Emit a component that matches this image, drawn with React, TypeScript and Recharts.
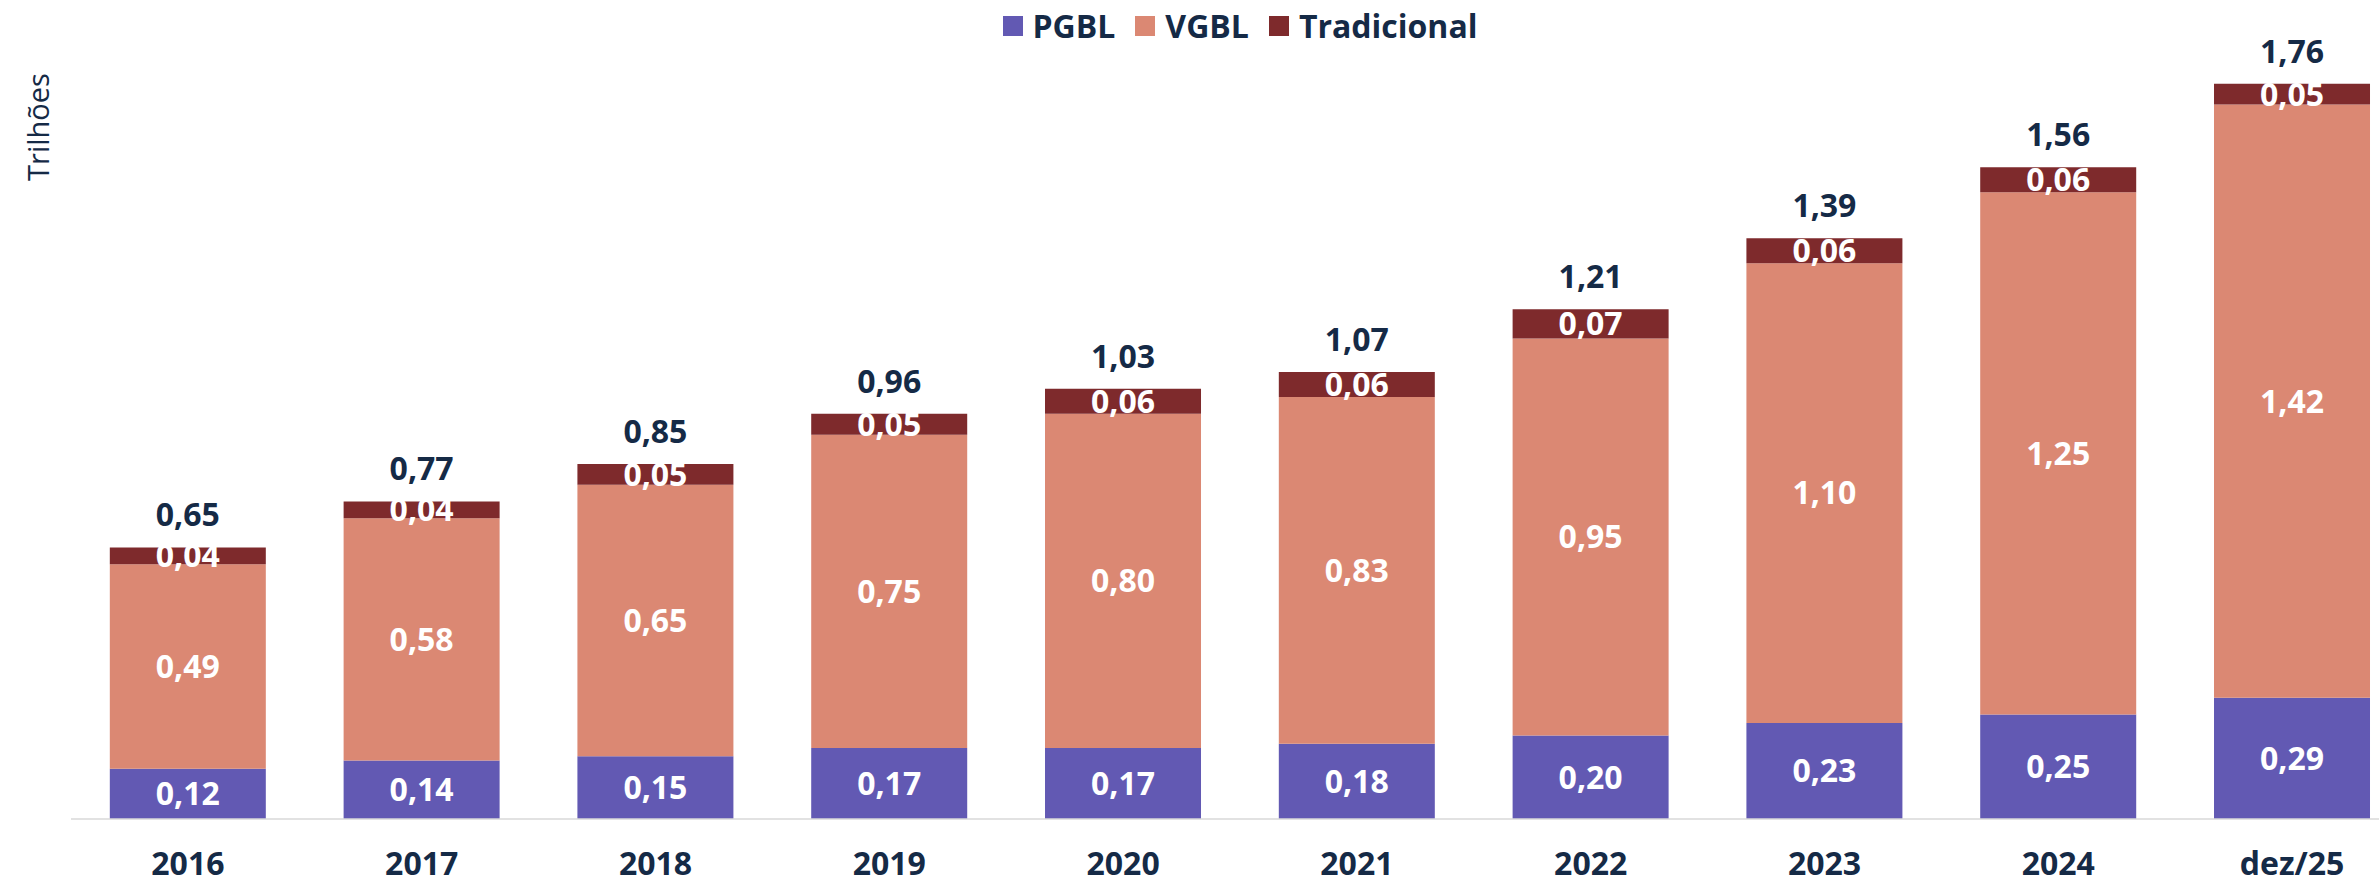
import { BarChart, Bar, XAxis, YAxis, Legend, LabelList } from "recharts";

const categories = ["2016", "2017", "2018", "2019", "2020", "2021", "2022", "2023", "2024", "dez/25"];
const pgbl = [0.12, 0.14, 0.15, 0.17, 0.17, 0.18, 0.2, 0.23, 0.25, 0.29];
const vgbl = [0.49, 0.58, 0.65, 0.75, 0.8, 0.83, 0.95, 1.1, 1.25, 1.42];
const tradicional = [0.04, 0.04, 0.05, 0.05, 0.06, 0.06, 0.07, 0.06, 0.06, 0.05];
const totals = [0.65, 0.77, 0.85, 0.96, 1.03, 1.07, 1.21, 1.39, 1.56, 1.76];

const NAVY = "#152a46";
const FONT = "'Open Sans', sans-serif";

const series = [
  { key: "pgbl", name: "PGBL", color: "#6259b3" },
  { key: "vgbl", name: "VGBL", color: "#db8873" },
  { key: "tradicional", name: "Tradicional", color: "#7e2a2c" },
];

const data = categories.map((cat, i) => ({
  cat,
  pgbl: pgbl[i],
  vgbl: vgbl[i],
  tradicional: tradicional[i],
  total: totals[i],
}));

const fmt = (v: number) => v.toFixed(2).replace(".", ",");

const XTick = ({ x, y, payload }: any) => (
  <text x={x} y={y} dy={56} textAnchor="middle" fill={NAVY} fontFamily={FONT} fontSize={32} fontWeight={700}>
    {payload.value}
  </text>
);

const TotalLabel = ({ x, y, width, index }: any) => (
  <text x={x + width / 2} y={y - 21} textAnchor="middle" fill={NAVY} fontFamily={FONT} fontSize={32} fontWeight={700}>
    {fmt(totals[index])}
  </text>
);

const LegendContent = () => (
  <div style={{ display: "flex", justifyContent: "center", alignItems: "center", fontFamily: FONT, lineHeight: "30px" }}>
    {series.map((s) => (
      <div key={s.key} style={{ display: "flex", alignItems: "center", margin: "0 10px" }}>
        <span style={{ width: 20, height: 20, background: s.color, marginRight: 10, display: "inline-block" }} />
        <span style={{ fontSize: 32, fontWeight: 700, color: NAVY }}>{s.name}</span>
      </div>
    ))}
  </div>
);

export default function App() {
  return (
    <div style={{ position: "relative", width: 2379, height: 883, overflow: "hidden", background: "#fff" }}>
      <style>{`body{margin:0}`}</style>
      <div
        style={{
          position: "absolute",
          left: 37,
          top: 127,
          transform: "translate(-50%, -50%) rotate(-90deg)",
          fontFamily: FONT,
          fontSize: 29,
          lineHeight: "29px",
          color: NAVY,
          whiteSpace: "nowrap",
          zIndex: 2,
        }}
      >
        Trilhões
      </div>
      <BarChart
        width={2409}
        height={883}
        data={data}
        margin={{ top: 67, right: 0, bottom: 0, left: 71 }}
        barCategoryGap="16.6%"
      >
        <XAxis
          dataKey="cat"
          height={64}
          tickSize={0}
          tickMargin={0}
          tickLine={false}
          axisLine={{ stroke: "#d9d9d9", strokeWidth: 1.5 }}
          tick={<XTick />}
          interval={0}
        />
        <YAxis hide width={0} domain={[0, 1.8]} />
        <Legend
          verticalAlign="middle"
          align="center"
          layout="horizontal"
          wrapperStyle={{ top: 11, left: 71, width: 2338 }}
          content={<LegendContent />}
        />
        {series.map((s) => (
          <Bar key={s.key} dataKey={s.key} name={s.name} stackId="a" fill={s.color} isAnimationActive={false}>
            <LabelList
              dataKey={s.key}
              position="center"
              formatter={(v: any) => fmt(Number(v))}
              fill="#ffffff"
              fontFamily={FONT}
              fontSize={32}
              fontWeight={700}
            />
            {s.key === "tradicional" && <LabelList dataKey="total" content={<TotalLabel />} />}
          </Bar>
        ))}
      </BarChart>
    </div>
  );
}
